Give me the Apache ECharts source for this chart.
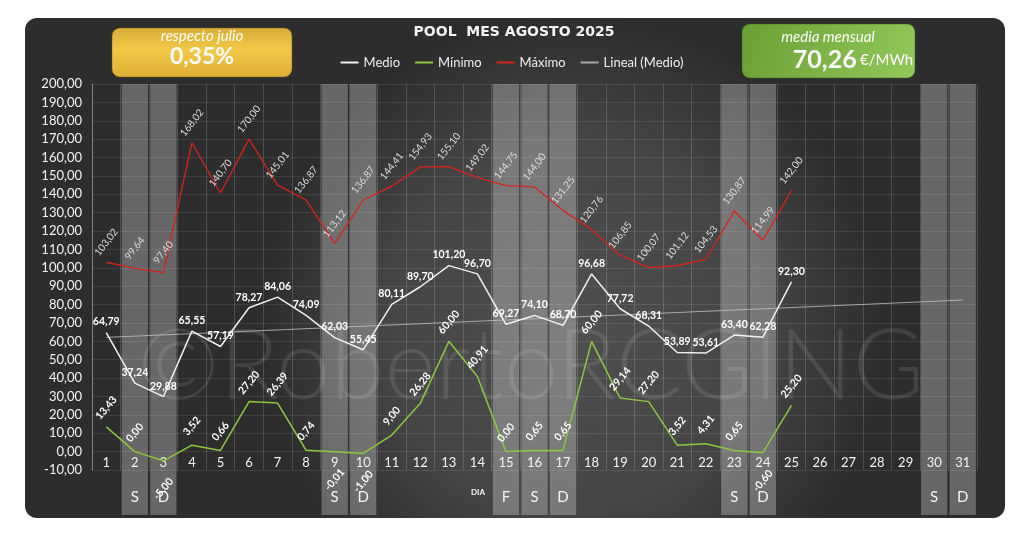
<!DOCTYPE html>
<html>
<head>
<meta charset="utf-8">
<script src="https://cdn.jsdelivr.net/npm/echarts@6/dist/echarts.min.js"></script>
<style>html,body{margin:0;padding:0;background:#fff;}#c{width:1024px;height:537px;}</style>
</head>
<body>
<div id="c"></div>
<script>
const days = ['1','2','3','4','5','6','7','8','9','10','11','12','13','14','15','16','17','18','19','20','21','22','23','24','25','26','27','28','29','30','31'];
const dayLetters = ['','S','D','','','','','','S','D','','','','','F','S','D','','','','','','S','D','','','','','','S','D'];
const medio = [64.79,37.24,29.88,65.55,57.19,78.27,84.06,74.09,62.03,55.45,80.11,89.70,101.20,96.70,69.27,74.10,68.70,96.68,77.72,68.31,53.89,53.61,63.40,62.28,92.30,null,null,null,null,null,null];
const minimo = [13.43,0.00,-5.00,3.52,0.66,27.20,26.39,0.74,-0.01,-1.00,9.00,26.28,60.00,40.91,0.00,0.65,0.65,60.00,29.14,27.20,3.52,4.31,0.65,-0.60,25.20,null,null,null,null,null,null];
const maximo = [103.02,99.64,97.40,168.02,140.70,170.00,145.01,136.87,113.12,136.87,144.41,154.93,155.10,149.02,144.75,144.00,131.25,120.76,106.85,100.07,101.12,104.53,130.87,114.99,142.00,null,null,null,null,null,null];
// trend line (Lineal (Medio)) endpoints: day 1 and day 31
const trendDays = ['1','31'];
const trendValues = [62.14,82.45];
const yMin = -10, yMax = 200, yStep = 10;
const badgeLeft = ['respecto julio','0,35%'];
const badgeRight = ['media mensual','70,26','€/MWh'];
const titleText = 'POOL  MES AGOSTO 2025';
const watermark = '©RobertoRCGING';

const fmt = v => (v == null ? '' : v.toFixed(2).replace('.', ','));
const trend = days.map(d => { const i = trendDays.indexOf(d); return i >= 0 ? trendValues[i] : null; });

const chart = echarts.init(document.getElementById('c'));
const FF = 'Lato, "Open Sans", sans-serif';

const option = {
  animation: false,
  backgroundColor: '#ffffff',
  graphic: [
    { type: 'rect', z: -100, shape: { x: 25, y: 18, width: 980, height: 500, r: 12 },
      style: { fill: new echarts.graphic.RadialGradient(0.56, 0.62, 0.62, [
        { offset: 0, color: '#4f4f4f' }, { offset: 0.6, color: '#454545' }, { offset: 1, color: '#2d2d2d' }]) } },
    { type: 'text', z: 1, left: 137, top: 318, silent: true,
      style: { text: watermark, font: '300 98px Lato, sans-serif', fill: 'rgba(255,255,255,0.1)' } },
    { type: 'rect', z: 5, shape: { x: 112, y: 28, width: 180, height: 49, r: 8 },
      style: { fill: new echarts.graphic.LinearGradient(0, 0, 0, 1, [
        { offset: 0, color: '#d6ad38' }, { offset: 0.45, color: '#f3c846' }, { offset: 1, color: '#dcae35' }]),
        stroke: 'rgba(120,90,20,0.5)', lineWidth: 1 } },
    { type: 'text', z: 6, x: 202, y: 36, style: { text: badgeLeft[0], font: 'italic 15px ' + FF, fill: '#fff', align: 'center', verticalAlign: 'middle' } },
    { type: 'text', z: 6, x: 202, y: 57, style: { text: badgeLeft[1], font: 'bold 23px ' + FF, fill: '#fff', align: 'center', verticalAlign: 'middle' } },
    { type: 'rect', z: 5, shape: { x: 742, y: 24, width: 173, height: 54, r: 8 },
      style: { fill: new echarts.graphic.LinearGradient(0, 0, 1, 1, [
        { offset: 0, color: '#6a9f35' }, { offset: 1, color: '#92c95a' }]),
        stroke: 'rgba(60,100,20,0.5)', lineWidth: 1 } },
    { type: 'text', z: 6, x: 828, y: 37, style: { text: badgeRight[0], font: 'italic 15px ' + FF, fill: '#fff', align: 'center', verticalAlign: 'middle' } },
    { type: 'text', z: 6, x: 853, y: 60, style: { text: '{a|' + badgeRight[1] + '} {b|' + badgeRight[2] + '}', align: 'center', verticalAlign: 'middle',
      rich: { a: { font: 'bold 25px ' + FF, fill: '#fff', color: '#fff' }, b: { font: '15px ' + FF, fill: '#fff', color: '#fff' } } } },
    { type: 'text', z: 6, x: 514, y: 32, style: { text: titleText, font: 'bold 14px "DejaVu Sans", sans-serif', fill: '#f4f4f4', align: 'center', verticalAlign: 'middle' } },
    { type: 'text', z: 6, x: 478, y: 492, style: { text: 'DIA', font: 'bold 8px ' + FF, fill: '#f4f4f4', align: 'center', verticalAlign: 'middle' } }
  ],
  legend: {
    top: 51, left: 'center', itemWidth: 18, itemHeight: 2, icon: 'rect', itemGap: 15,
    data: ['Medio', 'Mínimo', 'Máximo', 'Lineal (Medio)'],
    textStyle: { color: '#eeeeee', fontSize: 13, fontFamily: FF }
  },
  grid: [
    { left: 92, right: 47, top: 84, bottom: 67 },
    { left: 92, right: 47, top: 84, bottom: 22 }
  ],
  xAxis: [
    { type: 'category', data: days, gridIndex: 0, boundaryGap: true,
      axisLine: { show: false }, axisTick: { show: false },
      axisLabel: { inside: true, margin: 1, color: '#f2f2f2', fontSize: 13, fontFamily: FF },
      splitLine: { show: true, lineStyle: { color: 'rgba(255,255,255,0.16)', width: 1 } } },
    { type: 'category', data: days, gridIndex: 1, show: false }
  ],
  yAxis: [
    { type: 'value', gridIndex: 0, min: yMin, max: yMax, interval: yStep,
      axisLine: { show: true, lineStyle: { color: 'rgba(255,255,255,0.3)' } }, axisTick: { show: false },
      axisLabel: { color: '#f2f2f2', fontSize: 13, fontFamily: FF, margin: 10, formatter: v => fmt(v) },
      splitLine: { show: true, lineStyle: { color: 'rgba(255,255,255,0.09)', width: 1 } } },
    { type: 'value', gridIndex: 1, min: 0, max: 1, show: false }
  ],
  series: [
    { name: 'bands', type: 'bar', xAxisIndex: 1, yAxisIndex: 1, z: 0, silent: true, barWidth: '92%',
      data: dayLetters.map(l => (l ? 1 : '-')),
      itemStyle: { color: 'rgba(255,255,255,0.28)' },
      label: { show: true, position: 'insideBottom', distance: 10, color: '#f4f4f4', fontSize: 15, fontFamily: FF,
        formatter: p => dayLetters[p.dataIndex] } },
    { name: 'Lineal (Medio)', type: 'line', data: trend, connectNulls: true, symbol: 'none', z: 3,
      itemStyle: { color: '#a9a9a9' }, lineStyle: { color: 'rgba(200,200,200,0.75)', width: 1 } },
    { name: 'Máximo', type: 'line', data: maximo, symbol: 'circle', symbolSize: 0.1, showSymbol: true, z: 4,
      itemStyle: { color: '#d8231b' }, lineStyle: { color: '#d8231b', width: 1.3 },
      label: { show: true, position: 'top', distance: 20, rotate: 52, align: 'center', verticalAlign: 'middle',
        color: '#dddddd', fontSize: 10, fontFamily: FF, formatter: p => fmt(p.value) } },
    { name: 'Medio', type: 'line', data: medio, symbol: 'circle', symbolSize: 0.1, showSymbol: true, z: 5,
      itemStyle: { color: '#f0f0f0' }, lineStyle: { color: '#f0f0f0', width: 1.5 },
      label: { show: true, position: 'top', distance: 5, color: '#ffffff', fontSize: 10.5, fontWeight: 'bold', fontFamily: FF,
        formatter: p => fmt(p.value) } },
    { name: 'Mínimo', type: 'line', symbol: 'circle', symbolSize: 0.1, showSymbol: true, z: 5,
      data: minimo.map(v => (v == null ? null : (v < 0 ? { value: v, label: { position: 'bottom', distance: 28 } } : v))),
      itemStyle: { color: '#8dc63f' }, lineStyle: { color: '#8dc63f', width: 1.5 },
      label: { show: true, position: 'top', distance: 19, rotate: 50, align: 'center', verticalAlign: 'middle',
        color: '#ffffff', fontSize: 10.5, fontWeight: 'bold', fontFamily: FF, formatter: p => fmt(p.value) } }
  ]
};
chart.setOption(option);
</script>
</body>
</html>
